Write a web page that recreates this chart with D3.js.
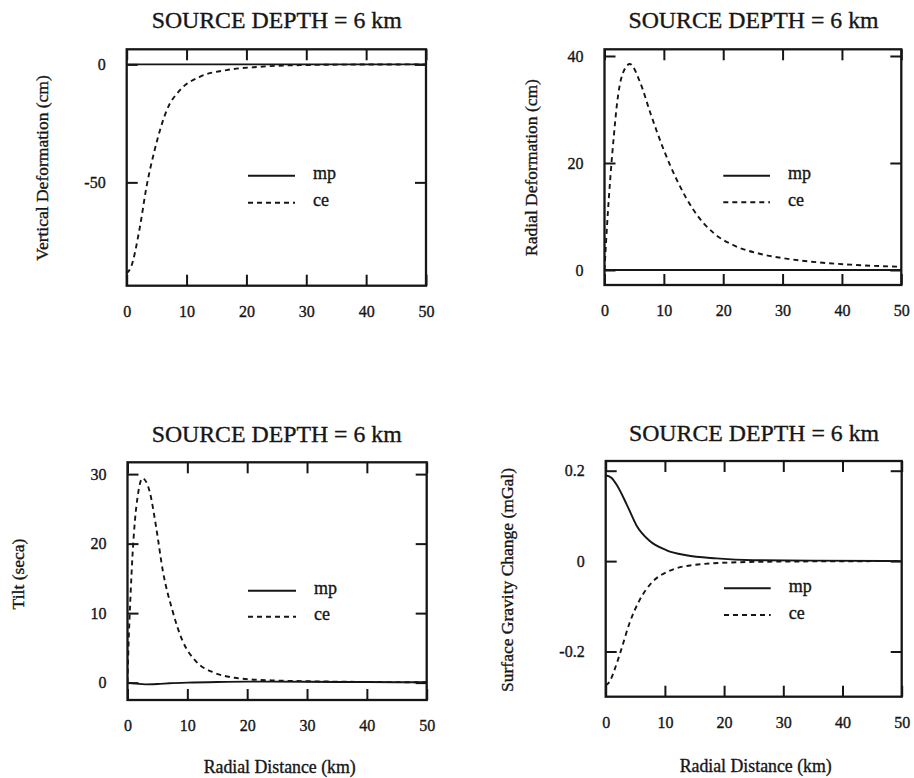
<!DOCTYPE html>
<html><head><meta charset="utf-8">
<script src="https://cdn.jsdelivr.net/npm/d3@7"></script>
<style>
html,body{margin:0;padding:0;background:#fff;}
svg{display:block;font-family:"Liberation Serif","Times New Roman",serif;}
svg text{stroke:#161616;stroke-width:0.35px;}
</style></head>
<body>
<svg id="c" width="914" height="778"></svg>
<script>
// ---------- data ----------
const titleText = "SOURCE DEPTH = 6 km";
const xTickValues = [0, 10, 20, 30, 40, 50];
const xTickLabels = ["0", "10", "20", "30", "40", "50"];
const legendNames = ["mp", "ce"];

// Panel 1: vertical deformation (cm)
const vertYTicks = [-50, 0];
const vertYTickLabels = ["-50", "0"];
const vertMpX = [0, 10, 20, 30, 40, 50];
const vertMpY = [0, 0, 0, 0, 0, 0];
const vertCeX = [0, 0.7, 2.2, 3.3, 4.7, 6.7, 8.9, 12.2, 16.7, 22.3, 29, 40, 50];
const vertCeY = [-88.5, -86, -69, -52, -36, -19.4, -10.9, -5.3, -2.4, -1.0, -0.3, -0.05, 0];

// Panel 2: radial deformation (cm)
const radYTicks = [0, 20, 40];
const radYTickLabels = ["0", "20", "40"];
const radMpX = [0, 10, 20, 30, 40, 50];
const radMpY = [0, 0, 0, 0, 0, 0];
const radCeX = [0, 0.45, 1.0, 1.57, 2.1, 3.0, 4.26, 6.06, 7.74, 10, 12.2, 15, 18.4, 21.8, 26.3, 30.2, 35.8, 41.4, 50];
const radCeY = [0, 8.7, 17.5, 25, 31, 36.5, 38.5, 34.9, 29.3, 22.4, 16.8, 11.2, 6.9, 4.6, 3.0, 2.2, 1.45, 1.0, 0.6];

// Panel 3: tilt (seca)
const tiltYTicks = [0, 10, 20, 30];
const tiltYTickLabels = ["0", "10", "20", "30"];
const tiltMpX = [0, 1.5, 3, 5, 7, 10, 15, 20, 30, 40, 50];
const tiltMpY = [0, -0.15, -0.25, -0.2, -0.1, 0, 0.1, 0.15, 0.12, 0.08, 0.05];
const tiltCeX = [0, 0.13, 0.52, 0.85, 1.23, 1.7, 2.5, 3.7, 4.8, 5.9, 7.5, 9.15, 11.3, 14.6, 17.9, 20, 25, 30, 40, 50];
const tiltCeY = [0, 4.2, 12.8, 18.5, 23.2, 26.8, 29.4, 27.5, 22.3, 16.1, 10.4, 6.1, 3.2, 1.4, 0.7, 0.5, 0.3, 0.2, 0.1, 0.05];

// Panel 4: surface gravity change (mGal)
const gravYTicks = [-0.2, 0, 0.2];
const gravYTickLabels = ["-0.2", "0", "0.2"];
const gravMpX = [0, 1.0, 1.9, 3.6, 5.2, 7.4, 10.3, 13.6, 18.7, 25, 35, 50];
const gravMpY = [0.19, 0.184, 0.168, 0.124, 0.079, 0.045, 0.024, 0.013, 0.006, 0.002, 0.001, 0];
const gravCeX = [0, 0.7, 1.5, 2.6, 4.0, 5.7, 7.9, 10.7, 14.6, 21.3, 30, 50];
const gravCeY = [-0.275, -0.266, -0.24, -0.197, -0.138, -0.087, -0.046, -0.022, -0.009, -0.003, -0.001, 0];

// ---------- layout ----------
const panels = [
  {x0:126.7, x1:426, y0:49.3, y1:285.7, yd:[-93.8, 6.4], yt:vertYTicks, ytl:vertYTickLabels,
   mp:[vertMpX, vertMpY], ce:[vertCeX, vertCeY], title:[276.7, 28.3],
   ylabel:"Vertical Deformation (cm)", ylab:[41.7, 168], leg:[248, 295, 175.7, 202.7], xlabel:null},
  {x0:604.5, x1:901.3, y0:49.3, y1:285, yd:[-2.8, 41.25], yt:radYTicks, ytl:radYTickLabels,
   mp:[radMpX, radMpY], ce:[radCeX, radCeY], title:[753.5, 28.3],
   ylabel:"Radial Deformation (cm)", ylab:[530.7, 167.5], leg:[723.3, 770, 175.7, 202.3], xlabel:null},
  {x0:127.5, x1:426.7, y0:462.3, y1:700, yd:[-2.5, 31.7], yt:tiltYTicks, ytl:tiltYTickLabels,
   mp:[tiltMpX, tiltMpY], ce:[tiltCeX, tiltCeY], title:[276.7, 441.5],
   ylabel:"Tilt (seca)", ylab:[18.3, 574], leg:[248, 296, 590.7, 616.7], xlabel:[279.7, 766.7]},
  {x0:605.7, x1:901.7, y0:461, y1:696.7, yd:[-0.30, 0.2215], yt:gravYTicks, ytl:gravYTickLabels,
   mp:[gravMpX, gravMpY], ce:[gravCeX, gravCeY], title:[754, 440.8],
   ylabel:"Surface Gravity Change (mGal)", ylab:[507.3, 580], leg:[724, 770.7, 588.3, 615], xlabel:[755.7, 765.7]}
];

const ink = "#161616";
const svg = d3.select("#c");

panels.forEach((p, i) => {
  const x = d3.scaleLinear().domain([0, 50]).range([p.x0, p.x1]);
  const y = d3.scaleLinear().domain(p.yd).range([p.y1, p.y0]);
  const g = svg.append("g");

  const cid = "clip" + i;
  svg.append("clipPath").attr("id", cid).append("rect")
    .attr("x", p.x0).attr("y", p.y0).attr("width", p.x1 - p.x0).attr("height", p.y1 - p.y0);

  const styleAxis = sel => {
    sel.select(".domain").remove();
    sel.selectAll(".tick line").attr("stroke", ink).attr("stroke-width", 2);
    sel.selectAll(".tick text").attr("fill", ink).style("font-size", "16px")
      .style("font-family", '"Liberation Serif","Times New Roman",serif');
  };
  const xl = d => xTickLabels[xTickValues.indexOf(d)];
  const yl = d => p.ytl[p.yt.indexOf(d)];
  g.append("g").attr("transform", `translate(0,${p.y1})`)
    .call(d3.axisBottom(x).tickValues(xTickValues).tickFormat(xl).tickSizeInner(-11).tickSizeOuter(0).tickPadding(20))
    .call(styleAxis);
  g.append("g").attr("transform", `translate(0,${p.y0})`)
    .call(d3.axisTop(x).tickValues(xTickValues).tickFormat("").tickSizeInner(-11).tickSizeOuter(0))
    .call(styleAxis);
  g.append("g").attr("transform", `translate(${p.x0},0)`)
    .call(d3.axisLeft(y).tickValues(p.yt).tickFormat(yl).tickSizeInner(-11).tickSizeOuter(0).tickPadding(21))
    .call(styleAxis);
  g.append("g").attr("transform", `translate(${p.x1},0)`)
    .call(d3.axisRight(y).tickValues(p.yt).tickFormat("").tickSizeInner(-11).tickSizeOuter(0))
    .call(styleAxis);

  const line = d3.line().x(d => x(d[0])).y(d => y(d[1])).curve(d3.curveMonotoneX);
  const mpData = p.mp[0].map((v, k) => [v, p.mp[1][k]]);
  const ceData = p.ce[0].map((v, k) => [v, p.ce[1][k]]);
  g.append("path").attr("clip-path", `url(#${cid})`).attr("d", line(mpData))
    .attr("fill", "none").attr("stroke", ink).attr("stroke-width", 1.9);
  g.append("path").attr("clip-path", `url(#${cid})`).attr("d", line(ceData))
    .attr("fill", "none").attr("stroke", ink).attr("stroke-width", 1.9).attr("stroke-dasharray", "5,4");

  g.append("rect").attr("x", p.x0).attr("y", p.y0).attr("width", p.x1 - p.x0).attr("height", p.y1 - p.y0)
    .attr("fill", "none").attr("stroke", ink).attr("stroke-width", 2.3);

  svg.append("text").attr("x", p.title[0]).attr("y", p.title[1]).attr("text-anchor", "middle")
    .attr("fill", ink).style("font-size", "23.8px").text(titleText);

  svg.append("text").attr("transform", `translate(${p.ylab[0]},${p.ylab[1]}) rotate(-90)`)
    .attr("text-anchor", "middle").attr("dy", "0.35em").attr("fill", ink)
    .style("font-size", "17.5px").text(p.ylabel);

  if (p.xlabel) {
    svg.append("text").attr("x", p.xlabel[0]).attr("y", p.xlabel[1]).attr("dy", "0.35em")
      .attr("text-anchor", "middle").attr("fill", ink).style("font-size", "17.8px")
      .text("Radial Distance (km)");
  }

  const [lx0, lx1, ly0, ly1] = p.leg;
  g.append("line").attr("x1", lx0).attr("x2", lx1).attr("y1", ly0).attr("y2", ly0)
    .attr("stroke", ink).attr("stroke-width", 1.9);
  g.append("line").attr("x1", lx0).attr("x2", lx1).attr("y1", ly1).attr("y2", ly1)
    .attr("stroke", ink).attr("stroke-width", 1.9).attr("stroke-dasharray", "5,4");
  g.append("text").attr("x", lx1 + 18).attr("y", ly0).attr("dy", "0.2em").attr("fill", ink)
    .style("font-size", "18px").text(legendNames[0]);
  g.append("text").attr("x", lx1 + 18).attr("y", ly1).attr("dy", "0.2em").attr("fill", ink)
    .style("font-size", "18px").text(legendNames[1]);
});
</script>
</body></html>
